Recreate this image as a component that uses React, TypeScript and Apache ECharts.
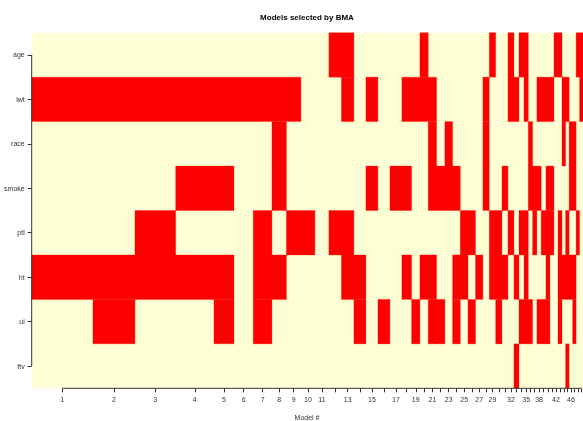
import React, { useEffect, useRef } from "react";
import * as echarts from "echarts";

// Variables (rows, top to bottom)
const variables = ["age", "lwt", "race", "smoke", "ptl", "ht", "ui", "ftv"];

// Posterior probability (%) of each model, models 1..49 (column widths)
const postProb = [
  11.12, 7.62, 7.39, 6.95, 3.63, 3.5, 3.39, 2.63, 2.63, 2.54,
  2.54, 2.27, 2.27, 2.18, 2.18, 2.18, 2.17, 1.76, 1.51, 1.51,
  1.51, 1.51, 1.4, 1.4, 1.4, 1.36, 1.34, 1.16, 1.16, 1.14,
  1.09, 1.09, 0.91, 0.91, 0.78, 0.78, 0.78, 0.78, 0.86, 0.73,
  0.73, 0.73, 0.73, 0.65, 0.64, 0.64, 0.63, 0.63, 0.62,
];

// Models (1-based) in which each variable is selected
const ageModels = [12, 13, 20, 29, 32, 34, 35, 42, 43, 48, 49];
const lwtModels = [1, 2, 3, 4, 5, 6, 7, 8, 9, 13, 15, 18, 19, 20, 21, 28, 32, 33, 35, 38, 39, 40, 41, 44, 45, 49];
const raceModels = [8, 21, 23, 28, 36, 44, 46, 47];
const smokeModels = [4, 5, 8, 15, 17, 18, 21, 22, 23, 24, 28, 31, 36, 37, 38, 40, 41, 46, 47];
const ptlModels = [3, 7, 9, 10, 12, 13, 25, 26, 29, 30, 32, 34, 35, 37, 39, 40, 41, 43, 45, 48];
const htModels = [1, 2, 3, 4, 5, 7, 8, 13, 14, 18, 20, 21, 24, 25, 27, 29, 30, 31, 33, 35, 40, 43, 44, 45, 46, 47];
const uiModels = [2, 5, 7, 14, 16, 19, 21, 22, 24, 26, 30, 34, 35, 36, 38, 39, 40, 43, 47];
const ftvModels = [33, 45];

// Model numbers whose tick carries a label
const labelledModels = [1, 2, 3, 4, 5, 6, 7, 8, 9, 10, 11, 13, 15, 17, 19, 21, 23, 25, 27, 29, 32, 35, 38, 42, 46];

const FONT = '"Liberation Sans", Arial, Helvetica, sans-serif';

export default function App() {
  const ref = useRef<HTMLDivElement>(null);
  useEffect(() => {
    if (!ref.current) return;
    const chart = echarts.init(ref.current, null, { renderer: "svg" });
    const inclusion = [ageModels, lwtModels, raceModels, smokeModels, ptlModels, htModels, uiModels, ftvModels];
    const cum: number[] = [0];
    postProb.forEach((p) => cum.push(cum[cum.length - 1] + p));
    const total = cum[cum.length - 1];
    const centers = postProb.map((_, i) => (cum[i] + cum[i + 1]) / 2);
    const n = postProb.length;

    // merge consecutive selected models into runs per variable
    const runs: number[][] = [];
    inclusion.forEach((list, j) => {
      const set = new Set(list);
      let i = 1;
      while (i <= n) {
        if (set.has(i)) {
          let k = i;
          while (set.has(k + 1)) k++;
          runs.push([cum[i - 1], cum[k], j]);
          i = k + 1;
        } else i++;
      }
    });

    const labelValues = labelledModels.map((m) => centers[m - 1]);

    chart.setOption({
      animation: false,
      grid: {
        left: 31.7,
        top: 32.7,
        right: 0,
        height: 355.6,
        show: true,
        backgroundColor: "#FFFFD5",
        borderWidth: 0,
      },
      xAxis: {
        type: "value",
        min: 0,
        max: total,
        axisLine: { show: false },
        splitLine: { show: false },
        axisTick: {
          show: true,
          customValues: centers,
          length: 4,
          lineStyle: { color: "#333", width: 1 },
        },
        axisLabel: {
          customValues: labelValues,
          fontSize: 7,
          color: "#333",
          fontFamily: FONT,
          margin: 8,
          formatter: (v: number) => {
            let best = 0;
            let bd = Infinity;
            centers.forEach((c, i) => {
              const d = Math.abs(c - v);
              if (d < bd) {
                bd = d;
                best = i;
              }
            });
            return String(best + 1);
          },
        },
      },
      yAxis: {
        type: "category",
        data: variables,
        inverse: true,
        axisLine: { show: false },
        splitLine: { show: false },
        axisTick: { show: true, alignWithLabel: true, length: 4, lineStyle: { color: "#333", width: 1 } },
        axisLabel: { fontSize: 7, color: "#333", fontFamily: FONT, margin: 7 },
      },
      graphic: [
        {
          type: "text",
          x: 307,
          y: 17,
          style: {
            text: "Models selected by BMA",
            font: `bold 8px ${FONT}`,
            fill: "#000",
            textAlign: "center",
            align: "center",
            textVerticalAlign: "middle",
            verticalAlign: "middle",
          },
        },
        {
          type: "text",
          x: 307,
          y: 417,
          style: {
            text: "Model #",
            font: `7px ${FONT}`,
            fill: "#333",
            textAlign: "center",
            align: "center",
            textVerticalAlign: "middle",
            verticalAlign: "middle",
          },
        },
      ],
      series: [
        {
          type: "custom",
          clip: false,
          data: runs,
          encode: { x: [0, 1], y: 2 },
          renderItem: (params: any, api: any) => {
            const x0 = api.value(0);
            const x1 = api.value(1);
            const j = api.value(2);
            const p0 = api.coord([x0, j]);
            const p1 = api.coord([x1, j]);
            const h = api.size([0, 1])[1];
            return {
              type: "rect",
              shape: { x: p0[0], y: p0[1] - h / 2, width: p1[0] - p0[0], height: h },
              style: { fill: "#FF0000", stroke: "#FF0000", lineWidth: 0.3 },
            };
          },
        },
        {
          type: "custom",
          clip: false,
          data: [[0, 0]],
          renderItem: (params: any, api: any) => {
            const h = api.size([0, 1])[1];
            const top = api.coord([0, 0]);
            const bot = api.coord([0, variables.length - 1]);
            const left = api.coord([centers[0], variables.length - 1]);
            const right = api.coord([centers[n - 1], variables.length - 1]);
            const yb = bot[1] + h / 2;
            return {
              type: "group",
              children: [
                {
                  type: "line",
                  shape: { x1: left[0], y1: yb, x2: right[0], y2: yb },
                  style: { stroke: "#333", lineWidth: 1 },
                },
                {
                  type: "line",
                  shape: { x1: top[0], y1: top[1], x2: top[0], y2: bot[1] },
                  style: { stroke: "#333", lineWidth: 1 },
                },
              ],
            };
          },
        },
      ],
    });
    return () => chart.dispose();
  }, []);
  return <div ref={ref} style={{ position: "fixed", left: 0, top: 0, width: 583, height: 421 }} />;
}
